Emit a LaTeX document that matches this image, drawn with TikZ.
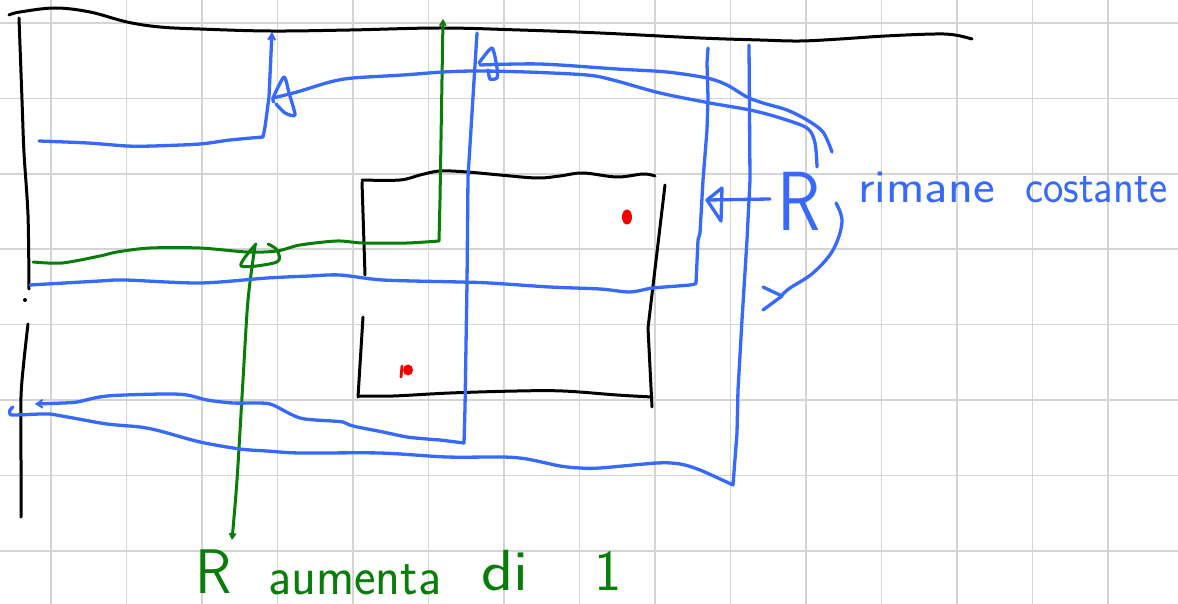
\documentclass[tikz,border=0pt]{standalone}
\usepackage{fontspec}
\usetikzlibrary{arrows.meta}
\definecolor{penblue}{RGB}{55,105,252}
\definecolor{pengreen}{RGB}{8,125,8}
\definecolor{gridgray}{RGB}{212,212,212}
\definecolor{penred}{RGB}{240,0,0}
\tikzset{
  gridline/.style={draw=gridgray,line width=1.6pt},
  blk/.style={draw=black,line width=3pt,line cap=round,line join=round},
  blu/.style={draw=penblue,line width=3.3pt,line cap=round,line join=round},
  grn/.style={draw=pengreen,line width=3pt,line cap=round,line join=round},
  btext/.style={text=penblue,anchor=base west,inner sep=0pt,font=\sffamily},
  gtext/.style={text=pengreen,anchor=base west,inner sep=0pt,font=\sffamily}
}
\begin{document}
\begin{tikzpicture}[x=1pt,y=-1pt]
\useasboundingbox (0,0) rectangle (1178,604);
\fill[white] (0,0) rectangle (1178,604);
% grid
\foreach \k in {0,...,14} \draw[gridline] ({51+75.5*\k},0) -- ({51+75.5*\k},604);
\foreach \k in {0,...,7} \draw[gridline] (0,{23+75.4*\k}) -- (1178,{23+75.4*\k});

% black frame lines
\draw[blk] plot[smooth,tension=.6] coordinates {(9,15) (20,12) (55,8) (90,12) (127,22) (160,27) (200,29) (270,31) (350,30) (440,28) (520,30) (600,33) (700,38) (760,40) (800,41) (840,39) (885,36) (935,34) (955,35) (972,39)};
\draw[blk] plot[smooth,tension=.5] coordinates {(19,18) (22,100) (24,153) (28,215) (29,289)};
\fill (25,300) circle (2);
\draw[blk] plot[smooth,tension=.5] coordinates {(28,324) (24,360) (21,397) (21,460) (21,517)};

% rectangle
\draw[blk] plot[smooth,tension=.6] coordinates {(362,180) (400,180) (420,175) (440,171) (467,172) (500,175) (537,178) (560,176) (583,173) (617,177) (643,174) (655,176)};
\draw[blk] (362,182) -- (365,275);
\draw[blk] (363,317) -- (358,397);
\draw[blk] plot[smooth,tension=.6] coordinates {(359,396) (393,396) (450,393) (517,391) (563,391) (617,395) (652,397)};
\draw[blk] (665,185) -- (648,328) -- (652,407);

% red marks
\fill[penred] (627,217) ellipse (5 and 7.5);
\fill[penred] (408,370) ellipse (5 and 5.5);
\draw[penred,line width=2.8pt,line cap=round] (402,366) -- (401,377);

% green paths
\draw[grn,-{Straight Barb[length=5pt,width=6pt,line width=1.8pt]}] plot[smooth,tension=.5] coordinates {(33,262) (62,263) (100,256) (117,252) (150,248) (200,248) (247,252) (277,251) (300,245) (337,241) (363,243) (407,243) (439,241)} -- (440,200) -- (443,19);
\draw[grn] plot[smooth,tension=.5] coordinates {(268,244) (277,250) (277,262) (241,266) (256,244)};
\draw[grn,-{Straight Barb[length=5pt,width=6pt,line width=1.8pt]}] plot[smooth,tension=.5] coordinates {(255,246) (248,300) (243,380) (237,480) (232,540)};

% blue paths
\draw[blu,-{Straight Barb[length=6pt,width=7pt,line width=2pt]}] plot[smooth,tension=.5] coordinates {(39,141) (88,143) (127,146) (153,146) (200,144) (230,140) (263,137)} -- (265,127) -- (269,97) -- (272,32);
\draw[blu] plot[smooth,tension=.5] coordinates {(817,167) (815,143) (807,128) (777,117) (750,110) (710,103) (660,93) (613,80) (587,75) (527,72) (477,71) (443,72) (403,75) (353,78) (330,82) (297,92) (273,98)};
\draw[blu] plot[smooth,tension=.4] coordinates {(274,102) (273,98) (284,77) (289,93) (295,115) (285,113) (276,104)};
\draw[blu] plot[smooth,tension=.5] coordinates {(832,152) (823,132) (807,120) (787,110) (763,103) (747,97) (727,85) (707,78) (667,72) (617,69) (540,64) (480,65)};
\draw[blu] plot[smooth,tension=.4] coordinates {(479,63) (492,48) (497,68) (497,78) (490,79) (488,70)};
\draw[blu,-{Straight Barb[length=6pt,width=8pt,line width=2pt]}] (477,33) -- (473,97) -- (468,177) -- (467,283) -- (465,408) -- (464,443) -- plot[smooth,tension=.5] coordinates {(440,440) (427,439) (407,437) (383,432) (353,426) (343,422) (332,421) (300,418) (273,405) (260,403) (233,403) (207,400) (187,395) (163,394) (107,396) (77,402) (63,403) (35,404)};
\draw[blu] plot[smooth,tension=.5] coordinates {(30,285) (100,281) (125,280) (200,283) (267,278) (310,276) (340,275) (383,280) (460,282) (490,283) (550,287) (600,289) (630,292) (653,288) (690,285) (696,283)} -- (698,240) -- (700,233) -- (703,180) -- (707,130) -- (708,97) -- (707,63) -- (708,48);
\draw[blu] plot[smooth,tension=.5] coordinates {(13,407) (10,410) (10,414) (14,415) (40,414) (50,414) (73,418) (107,424) (140,427) (160,431) (200,442) (240,449) (267,451) (300,453) (380,453) (447,457) (503,457) (527,459) (560,466) (580,468) (600,468) (657,463) (680,464) (700,470) (733,485)} -- (737,433) -- (738,390) -- (742,320) -- (747,240) -- (750,180) -- (749,45);

% R arrow and curved arrow
\coordinate (rtail) at (770,199);
\coordinate (rtip) at (707,200);
\draw[blu] (rtail) -- (rtip);
\draw[blu] (722,188) -- (rtip) -- (721,221) -- cycle;
\draw[blu] plot[smooth,tension=.6] coordinates {(836,203) (842,222) (833,250) (813,273) (790,288) (782,295)};
\draw[blu] (763,287) -- (782,296) -- (763,310);

% texts
\node[btext] (Rb) at (777,230) {\scalebox{0.85}[1]{\fontsize{84}{84}\selectfont R}};
\node[btext] (rim) at (858,203) {\scalebox{1.1}[1]{\fontsize{47}{47}\selectfont rimane}};
\node[btext] (cos) at (1025,203) {\scalebox{0.92}[1]{\fontsize{47}{47}\selectfont costante}};
\node[gtext] (Rg) at (195,593) {\scalebox{0.95}[1]{\fontsize{63}{63}\selectfont R}};
\node[gtext] (aum) at (268,594) {\scalebox{0.95}[1]{\fontsize{54}{54}\selectfont aumenta}};
\node[gtext] (di) at (481,590) {\scalebox{1.15}[1]{\fontsize{58}{58}\selectfont di}};
\node[gtext] (one) at (594,590) {\fontsize{58}{58}\selectfont 1};
\end{tikzpicture}
\end{document}
